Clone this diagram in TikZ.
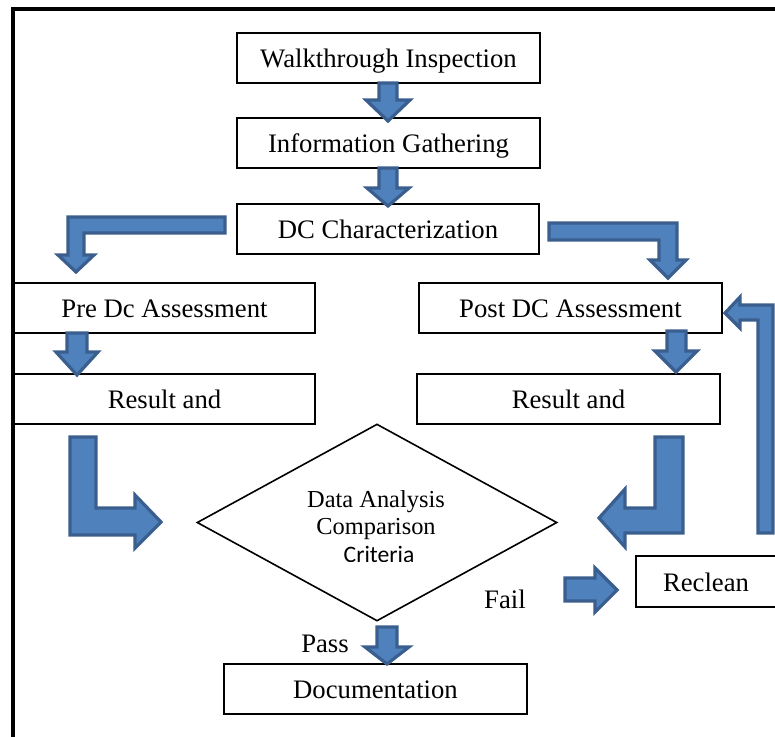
\documentclass[tikz,border=0pt]{standalone}
\usepackage{fontspec}
\setmainfont{Liberation Serif}
\newfontfamily\carlitofont{Carlito}
\usetikzlibrary{shapes.geometric}
\definecolor{arrowfill}{HTML}{4F81BD}
\definecolor{arrowline}{HTML}{3A5F8E}
\begin{document}
\begin{tikzpicture}[x=0.5pt,y=-0.5pt,
  box/.style={draw=black, line width=0.7pt, minimum width=151.5pt, minimum height=25pt,
    inner sep=0pt, text height=12pt, text depth=2.5pt, font=\fontsize{13.35}{15}\selectfont},
  blockarrow/.style={fill=arrowfill, draw=arrowline, line width=1.6pt, line join=miter},
  lbl/.style={anchor=base, inner sep=0pt, font=\fontsize{13.35}{15}\selectfont},
  dtext/.style={anchor=base, inner sep=0pt, font=\fontsize{12.2}{14}\selectfont}]
\useasboundingbox (0,0) rectangle (775,736);
\begin{scope}
\clip (0,0) rectangle (775,736);
% frame
\draw[line width=1.75pt] (13,9) rectangle (800,760);

% boxes
\node[box] (wi) at (388.5,58) {Walkthrough Inspection};
\node[box] (ig) at (388.5,143) {Information Gathering};
\node[box, minimum width=151pt] (dc) at (388,229) {DC Characterization};
\node[box, minimum width=150.5pt] (pre) at (164.5,308) {Pre Dc Assessment};
\node[box, minimum width=150.5pt] (resl) at (164.5,399) {Result and};
\node[box] (post) at (570.5,308) {Post DC Assessment};
\node[box] (resr) at (568.5,399) {Result and};
\node[box] (doc) at (375.5,689) {Documentation};
\node[box, minimum width=70pt, minimum height=25.5pt] (rec) at (706,581.5) {Reclean};

% decision
\node[draw=black, diamond, line width=0.8pt, minimum width=180pt, minimum height=98.5pt, inner sep=0pt] (dia) at (377,522.5) {};
\begin{scope}
\clip (190,420) rectangle (565,561);
\node[dtext] (d1) at (376,507) {Data Analysis};
\node[dtext] (d2) at (376,534) {Comparison};
\node[dtext, font=\fontsize{11.8}{14}\selectfont\carlitofont] (d3) at (379,562) {Criteria};
\end{scope}

% labels
\node[lbl] (pass) at (325,652) {Pass};
\node[lbl] (fail) at (505,608) {Fail};

% block arrows
% wi -> ig
\draw[blockarrow] (379,83) -- (397,83) -- (397,100) -- (410,100) -- (388,121) -- (366,100) -- (379,100) -- cycle;
% ig -> dc
\draw[blockarrow] (379,168) -- (397,168) -- (397,188) -- (409,188) -- (388,206) -- (367,188) -- (379,188) -- cycle;
% dc -> pre (bent left)
\draw[blockarrow] (225,217) -- (68,217) -- (68,255) -- (58,255) -- (76,272) -- (94,255) -- (84,255) -- (84,233) -- (225,233) -- cycle;
% dc -> post (bent right)
\draw[blockarrow] (549,223) -- (677,223) -- (677,260) -- (686,260) -- (668,278) -- (650,260) -- (659,260) -- (659,240) -- (549,240) -- cycle;
% pre -> resl
\draw[blockarrow] (67,333) -- (87,333) -- (87,352) -- (98,352) -- (77,375) -- (56,352) -- (67,352) -- cycle;
% post -> resr
\draw[blockarrow] (667,331) -- (686,331) -- (686,351) -- (697,351) -- (676,372) -- (655,351) -- (667,351) -- cycle;
% resl -> diamond
\draw[blockarrow] (70,437) -- (96,437) -- (96,508) -- (135,508) -- (135,495) -- (161,522) -- (135,548) -- (135,535) -- (70,535) -- cycle;
% resr -> diamond
\draw[blockarrow] (683,437) -- (655,437) -- (655,508) -- (625,508) -- (625,489) -- (599,518) -- (625,547) -- (625,533) -- (683,533) -- cycle;
% rec -> post (feedback)
\draw[blockarrow] (773,533) -- (758,533) -- (758,320) -- (740,320) -- (740,328) -- (725,313) -- (740,297) -- (740,305) -- (773,305) -- cycle;
% fail -> rec
\draw[blockarrow] (565,578) -- (595,578) -- (595,568) -- (617,590) -- (595,612) -- (595,601) -- (565,601) -- cycle;
% pass -> doc
\draw[blockarrow] (377,627) -- (397,627) -- (397,647) -- (409,647) -- (387,664) -- (365,647) -- (377,647) -- cycle;
\end{scope}
\end{tikzpicture}
\end{document}
